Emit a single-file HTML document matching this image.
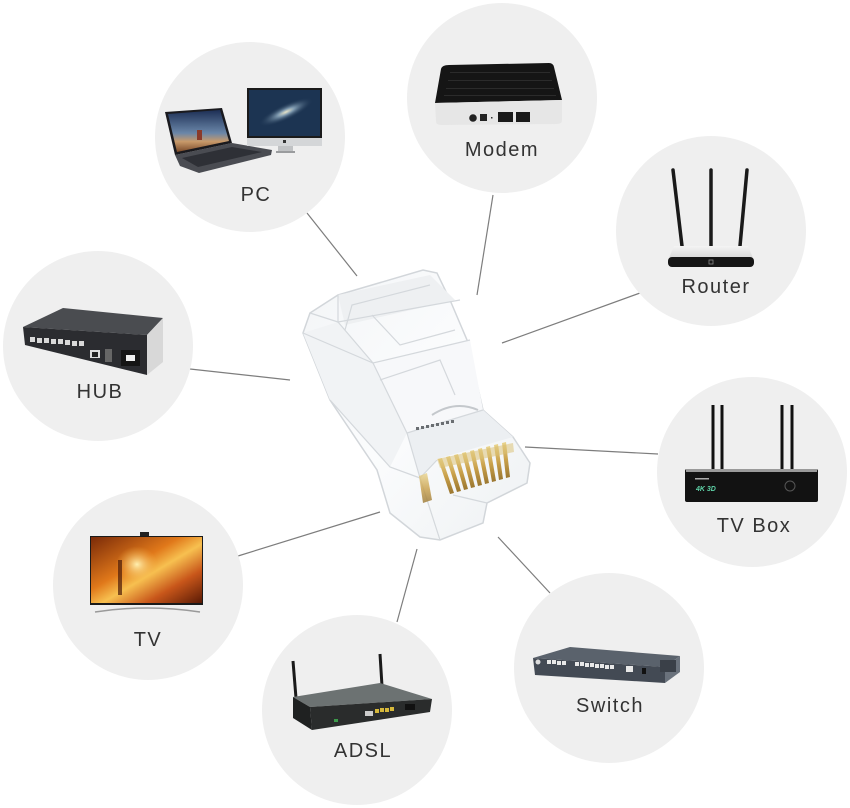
<!DOCTYPE html>
<html>
<head>
<meta charset="utf-8">
<style>
html,body{margin:0;padding:0;background:#fff;}
svg{display:block;}
text{font-family:"Liberation Sans",sans-serif;}
</style>
</head>
<body>
<svg width="850" height="808" viewBox="0 0 850 808" xmlns="http://www.w3.org/2000/svg">
<defs>
  <linearGradient id="lapScreen" x1="0" y1="0" x2="0" y2="1">
    <stop offset="0" stop-color="#1d2f55"/>
    <stop offset="0.55" stop-color="#6a86a8"/>
    <stop offset="0.75" stop-color="#c89a6a"/>
    <stop offset="1" stop-color="#7a4a2a"/>
  </linearGradient>
  <radialGradient id="galaxy" cx="0.5" cy="0.5" r="0.5">
    <stop offset="0" stop-color="#e8e4c8"/>
    <stop offset="0.3" stop-color="#7f9ab0"/>
    <stop offset="1" stop-color="#1c3350" stop-opacity="0"/>
  </radialGradient>
  <linearGradient id="tvScreen" x1="0" y1="0" x2="1" y2="1">
    <stop offset="0" stop-color="#7a2a08"/>
    <stop offset="0.4" stop-color="#e0781a"/>
    <stop offset="0.55" stop-color="#f7c050"/>
    <stop offset="0.75" stop-color="#c8561a"/>
    <stop offset="1" stop-color="#5a1a05"/>
  </linearGradient>
  <radialGradient id="tvGlow" cx="0.45" cy="0.45" r="0.35">
    <stop offset="0" stop-color="#fff0b0"/>
    <stop offset="1" stop-color="#f5b040" stop-opacity="0"/>
  </radialGradient>
  <linearGradient id="gold" x1="0" y1="0" x2="0" y2="1">
    <stop offset="0" stop-color="#ead58f"/>
    <stop offset="0.5" stop-color="#c9a04a"/>
    <stop offset="1" stop-color="#9a7630"/>
  </linearGradient>
  <linearGradient id="routerTop" x1="0" y1="0" x2="0" y2="1">
    <stop offset="0" stop-color="#f4f4f4"/>
    <stop offset="1" stop-color="#d8d8d8"/>
  </linearGradient>
  <linearGradient id="plastic" x1="0" y1="0" x2="1" y2="1">
    <stop offset="0" stop-color="#f3f5f7"/>
    <stop offset="0.5" stop-color="#fbfcfd"/>
    <stop offset="1" stop-color="#eef1f3"/>
  </linearGradient>
</defs>

<!-- connector lines -->
<g stroke="#7d7d7d" stroke-width="1.2" fill="none">
  <line x1="307" y1="213" x2="357" y2="276"/>
  <line x1="190" y1="369" x2="290" y2="380"/>
  <line x1="493" y1="195" x2="477" y2="295"/>
  <line x1="640" y1="293" x2="502" y2="343"/>
  <line x1="525" y1="447" x2="658" y2="454"/>
  <line x1="498" y1="537" x2="550" y2="593"/>
  <line x1="238" y1="556" x2="380" y2="512"/>
  <line x1="397" y1="622" x2="417" y2="549"/>
</g>

<!-- circles -->
<g fill="#efefef">
  <circle cx="250" cy="137" r="95"/>
  <circle cx="502" cy="98" r="95"/>
  <circle cx="711" cy="231" r="95"/>
  <circle cx="98" cy="346" r="95"/>
  <circle cx="752" cy="472" r="95"/>
  <circle cx="148" cy="585" r="95"/>
  <circle cx="357" cy="710" r="95"/>
  <circle cx="609" cy="668" r="95"/>
</g>

<!-- PC: laptop -->
<g>
  <polygon points="175,155 232,143 272,150 271,155 199,173 180,166" fill="#4a4c52"/>
  <polygon points="182,158 232,147 262,152 198,167" fill="#2e3036"/>
  <polygon points="165,112 222,108 232,143 175,155" fill="#1a1a1e"/>
  <polygon points="168,114 220,110 229,141 177,152" fill="url(#lapScreen)"/>
  <rect x="197" y="130" width="5" height="10" fill="#8a3a2a"/>
  <!-- iMac -->
  <rect x="247" y="88" width="75" height="50" fill="#1a1a1a"/>
  <rect x="249" y="90" width="71" height="46" fill="#1c3452"/>
  <ellipse cx="286" cy="112" rx="30" ry="8" fill="url(#galaxy)" transform="rotate(-25 286 112)"/>
  <rect x="247" y="138" width="75" height="8" fill="#d4d6d8"/>
  <rect x="283" y="140" width="3" height="3" fill="#333"/>
  <rect x="278" y="146" width="15" height="5" fill="#c0c2c4"/>
  <rect x="276" y="151" width="19" height="2" fill="#9a9c9e"/>
</g>

<!-- Modem -->
<g>
  <path d="M449,65 L549,63 Q553,63 554,67 L562,100 L435,103 L441,69 Q442,65 449,65 Z" fill="#151515"/>
  <g fill="#3a3a3a" opacity="0.6">
    <rect x="450" y="72" width="100" height="1"/>
    <rect x="448" y="80" width="104" height="1"/>
    <rect x="446" y="88" width="108" height="1"/>
    <rect x="444" y="95" width="112" height="1"/>
  </g>
  <path d="M435,103 L562,100 L562,120 Q562,124 557,124 L441,125 Q436,125 436,121 Z" fill="#e6e6e6"/>
  <circle cx="473" cy="118" r="3.8" fill="#222"/>
  <rect x="480" y="114" width="7" height="7" fill="#222"/>
  <rect x="491" y="117" width="1.5" height="1.5" fill="#333"/>
  <rect x="498" y="112" width="15" height="10" fill="#1a1a1a"/>
  <rect x="516" y="112" width="14" height="10" fill="#1a1a1a"/>
</g>

<!-- Router -->
<g>
  <line x1="673" y1="170" x2="682" y2="246" stroke="#1a1a1a" stroke-width="3.5" stroke-linecap="round"/>
  <line x1="711" y1="170" x2="711" y2="246" stroke="#1a1a1a" stroke-width="3.5" stroke-linecap="round"/>
  <line x1="747" y1="170" x2="740" y2="246" stroke="#1a1a1a" stroke-width="3.5" stroke-linecap="round"/>
  <polygon points="674,246 748,246 753,258 669,258" fill="url(#routerTop)"/>
  <rect x="668" y="257" width="86" height="10" rx="4" fill="#161616"/>
  <rect x="709" y="260" width="4" height="4" fill="none" stroke="#888" stroke-width="0.8"/>
</g>

<!-- HUB -->
<g>
  <polygon points="23,327 63,308 163,318 147,335" fill="#4a4c50"/>
  <polygon points="23,327 147,335 147,375 25,345" fill="#2b2c30"/>
  <polygon points="147,335 163,318 163,362 147,375" fill="#d8d8d8"/>
  <g fill="#d9d9d9">
    <rect x="30" y="337" width="5" height="5"/>
    <rect x="37" y="338" width="5" height="5"/>
    <rect x="44" y="338" width="5" height="5"/>
    <rect x="51" y="339" width="5" height="5"/>
    <rect x="58" y="339" width="5" height="5"/>
    <rect x="65" y="340" width="5" height="5"/>
    <rect x="72" y="341" width="5" height="5"/>
    <rect x="79" y="341" width="5" height="5"/>
  </g>
  <rect x="90" y="350" width="10" height="8" fill="#ddd"/>
  <rect x="92" y="352" width="6" height="5" fill="#222"/>
  <rect x="105" y="349" width="7" height="13" fill="#666"/>
  <rect x="121" y="350" width="19" height="16" fill="#151515"/>
  <rect x="126" y="355" width="9" height="6" fill="#eee"/>
</g>

<!-- TV Box -->
<g>
  <line x1="713" y1="405" x2="713" y2="471" stroke="#111" stroke-width="3"/>
  <line x1="722" y1="405" x2="722" y2="471" stroke="#111" stroke-width="3"/>
  <line x1="782" y1="405" x2="782" y2="471" stroke="#111" stroke-width="3"/>
  <line x1="792" y1="405" x2="792" y2="471" stroke="#111" stroke-width="3"/>
  <rect x="685" y="469" width="133" height="33" rx="2" fill="#121212"/>
  <rect x="686" y="469" width="131" height="3" fill="#9a9a9a"/>
  <rect x="695" y="478" width="14" height="1.5" fill="#aaa"/>
  <text x="696" y="491" font-size="7" fill="#5fd3a8" font-style="italic" font-weight="bold">4K  3D</text>
  <circle cx="790" cy="486" r="5" fill="none" stroke="#555" stroke-width="1"/>
</g>

<!-- TV -->
<g>
  <rect x="140" y="532" width="9" height="4" fill="#222"/>
  <rect x="90" y="536" width="113" height="69" fill="#1a1a1a"/>
  <rect x="91" y="537" width="111" height="66" fill="url(#tvScreen)"/>
  <ellipse cx="140" cy="567" rx="30" ry="26" fill="url(#tvGlow)"/>
  <rect x="118" y="560" width="4" height="35" fill="#4a1a08" opacity="0.7"/>
  <path d="M95,612 Q147,604 200,612" fill="none" stroke="#9a9a9a" stroke-width="1.5"/>
</g>

<!-- ADSL -->
<g>
  <line x1="293" y1="661" x2="296" y2="698" stroke="#1a1a1a" stroke-width="3"/>
  <line x1="380" y1="654" x2="382" y2="686" stroke="#1a1a1a" stroke-width="3"/>
  <polygon points="293,697 380,683 432,699 310,707" fill="#6c7272"/>
  <polygon points="310,707 432,699 430,712 312,730" fill="#2a2c2c"/>
  <polygon points="293,697 310,707 312,730 293,718" fill="#1f2121"/>
  <g fill="#d6b83a">
    <rect x="375" y="709" width="4" height="4"/>
    <rect x="380" y="708" width="4" height="4"/>
    <rect x="385" y="708" width="4" height="4"/>
    <rect x="390" y="707" width="4" height="4"/>
  </g>
  <rect x="365" y="711" width="8" height="5" fill="#ccc"/>
  <rect x="405" y="704" width="10" height="6" fill="#111"/>
  <rect x="334" y="719" width="4" height="3" fill="#3c9a4a"/>
</g>

<!-- Switch -->
<g>
  <polygon points="533,658 570,647 680,656 665,667" fill="#5a626c"/>
  <polygon points="533,658 665,667 665,683 535,675" fill="#434a54"/>
  <polygon points="665,667 680,656 680,672 665,683" fill="#6a727c"/>
  <circle cx="538" cy="662" r="2.5" fill="#ddd"/>
  <g fill="#e8e8e8">
    <rect x="547" y="660" width="4" height="4"/>
    <rect x="552" y="660" width="4" height="4"/>
    <rect x="557" y="661" width="4" height="4"/>
    <rect x="562" y="661" width="4" height="4"/>
    <rect x="575" y="662" width="4" height="4"/>
    <rect x="580" y="662" width="4" height="4"/>
    <rect x="585" y="663" width="4" height="4"/>
    <rect x="590" y="663" width="4" height="4"/>
    <rect x="595" y="664" width="4" height="4"/>
    <rect x="600" y="664" width="4" height="4"/>
    <rect x="605" y="665" width="4" height="4"/>
    <rect x="610" y="665" width="4" height="4"/>
    <rect x="626" y="666" width="7" height="6"/>
  </g>
  <rect x="642" y="668" width="4" height="6" fill="#111"/>
  <rect x="660" y="660" width="16" height="12" fill="#3a4048"/>
</g>

<!-- RJ45 connector -->
<g>
  <polygon points="338,295 423,270 437,273 450,300 467,340 483,410 513,437 530,463 527,483 487,503 483,523 440,540 420,537 390,513 377,470 330,400 303,333 310,313"
    fill="url(#plastic)" stroke="#d2d6da" stroke-width="1.5"/>
  <!-- shaded faces -->
  <polygon points="338,295 430,275 455,300 345,325" fill="#eef0f2"/>
  <polygon points="303,333 338,322 373,363 407,433 390,467 330,400" fill="#f1f3f5"/>
  <polygon points="373,363 470,340 483,410 407,433" fill="#f7f8fa"/>
  <polygon points="407,433 483,410 513,437 437,459 420,478" fill="#eceff2"/>
  <g fill="none" stroke="#d4d8dc" stroke-width="1.2">
    <polyline points="338,295 338,322 460,300"/>
    <polyline points="310,313 338,322"/>
    <polyline points="303,333 373,363 470,340"/>
    <polyline points="373,363 407,433 483,410"/>
    <polyline points="338,322 373,363"/>
    <polyline points="407,433 420,478 437,460"/>
    <polyline points="330,400 390,467 420,478"/>
    <polyline points="420,478 440,540"/>
    <polyline points="453,495 487,503"/>
    <polyline points="345,330 352,305 430,285"/>
    <polyline points="380,380 440,360 455,395"/>
    <polyline points="372,315 400,345 455,330"/>
  </g>
  <path d="M432,415 Q455,400 478,410" fill="none" stroke="#c4c8cc" stroke-width="2"/>
  <g fill="#6a6e72">
    <rect x="416" y="427" width="3" height="3"/>
    <rect x="421" y="426" width="3" height="3"/>
    <rect x="426" y="425" width="3" height="3"/>
    <rect x="431" y="424" width="3" height="3"/>
    <rect x="436" y="423" width="3" height="3"/>
    <rect x="441" y="422" width="3" height="3"/>
    <rect x="446" y="421" width="3" height="3"/>
    <rect x="451" y="420" width="3" height="3"/>
  </g>
  <!-- gold contacts -->
  <g fill="url(#gold)">
    <polygon points="438,459 442,458 454,493 450,494"/>
    <polygon points="446,457 450,456 461,491 457,492"/>
    <polygon points="454,455 458,454 468,489 464,490"/>
    <polygon points="462,453 466,452 475,487 471,488"/>
    <polygon points="470,451 474,450 482,485 478,486"/>
    <polygon points="478,449 482,448 489,483 485,484"/>
    <polygon points="486,447 490,446 496,481 492,482"/>
    <polygon points="494,445 498,444 503,479 499,480"/>
    <polygon points="502,443 506,442 510,477 506,478"/>
  </g>
  <polygon points="437,459 513,443 514,452 440,468" fill="#d9bd6e" opacity="0.5"/>
  <polygon points="419,476 427,473 432,500 423,503" fill="url(#gold)" opacity="0.8"/>
</g>

<!-- labels -->
<g font-size="20" fill="#333" text-anchor="middle" letter-spacing="1.5">
  <text x="256" y="201">PC</text>
  <text x="502" y="156">Modem</text>
  <text x="716" y="293">Router</text>
  <text x="100" y="398">HUB</text>
  <text x="754" y="532">TV Box</text>
  <text x="148" y="646">TV</text>
  <text x="363" y="757">ADSL</text>
  <text x="610" y="712">Switch</text>
</g>
</svg>
</body>
</html>
